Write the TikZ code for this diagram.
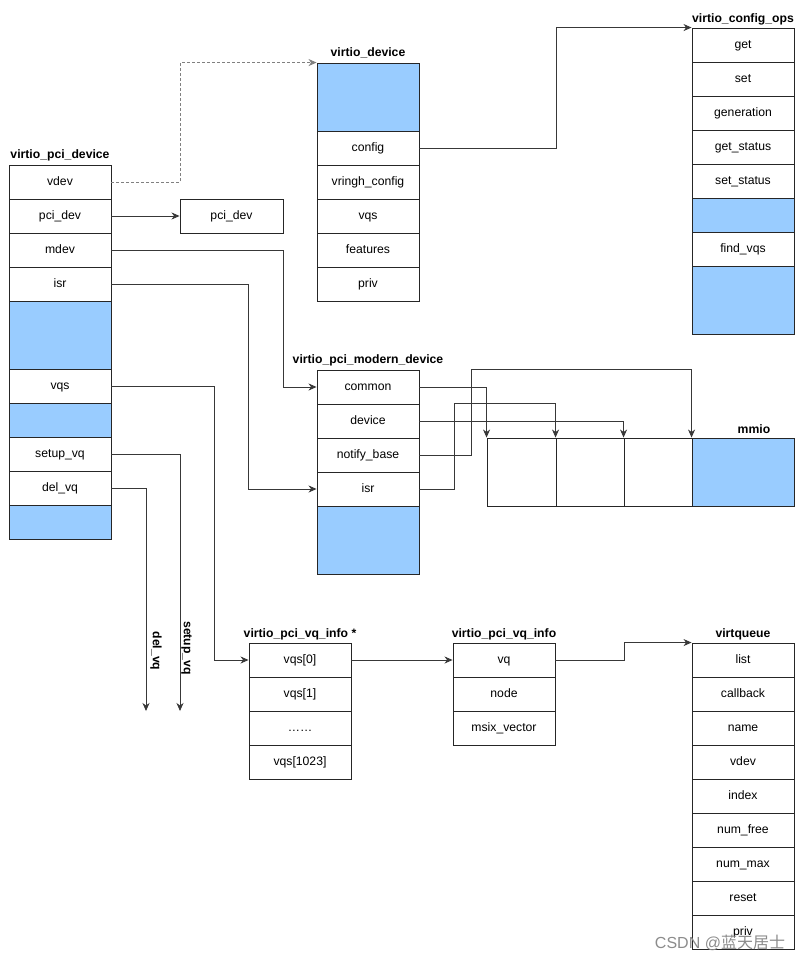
\documentclass[tikz,border=0pt]{standalone}
\usepackage{fontspec}
\setmainfont{Liberation Sans}
\newfontfamily\cjk{Noto Sans CJK SC}
\usetikzlibrary{arrows.meta,calc}
\definecolor{blueF}{HTML}{99CCFF}
\newcommand\lblfont{\fontsize{12.2}{14}\selectfont}
\newcommand\ttlfont{\fontsize{12.2}{14}\selectfont\bfseries}
\tikzset{
  cell/.style={draw=black!85, line width=0.9pt, fill=white, minimum width=102pt, minimum height=34pt, inner sep=0pt, font=\lblfont, text height=8.8pt, text depth=2.6pt},
  bcell/.style={cell, fill=blueF},
  ttl/.style={font=\ttlfont, inner sep=0pt, text height=8.8pt, text depth=2.6pt},
  conn/.style={draw=black!78, line width=0.9pt, -{Stealth[length=8pt,width=7pt,inset=2.5pt]}},
  dconn/.style={conn, draw=black!50, dash pattern=on 3pt off 2pt},
}
\begin{document}
\begin{tikzpicture}[x=1pt,y=-1pt]
\fill[white] (0,0) rectangle (805,961);
\useasboundingbox (0,0) rectangle (805,961);

% virtio_pci_device
\node[ttl] (pdt) at (60,155) {virtio\_pci\_device};
\node[cell] (pd-vdev) at (60,182) {vdev};
\node[cell] (pd-pcidev) at (60,216) {pci\_dev};
\node[cell] (pd-mdev) at (60,250) {mdev};
\node[cell] (pd-isr) at (60,284) {isr};
\node[bcell, minimum height=68pt] (pd-b1) at (60,335) {};
\node[cell] (pd-vqs) at (60,386) {vqs};
\node[bcell] (pd-b2) at (60,420) {};
\node[cell] (pd-setup) at (60,454) {setup\_vq};
\node[cell] (pd-del) at (60,488) {del\_vq};
\node[bcell] (pd-b3) at (60,522) {};

% pci_dev
\node[cell, minimum width=103pt] (pcidev) at (231.5,216) {pci\_dev};

% virtio_device
\node[ttl] (vdt) at (368,53) {virtio\_device};
\node[bcell, minimum height=68pt] (vd-blue) at (368,97) {};
\node[cell] (vd-config) at (368,148) {config};
\node[cell] (vd-vringh) at (368,182) {vringh\_config};
\node[cell] (vd-vqs) at (368,216) {vqs};
\node[cell] (vd-feat) at (368,250) {features};
\node[cell] (vd-priv) at (368,284) {priv};

% virtio_config_ops
\node[ttl] (cot) at (743,19) {virtio\_config\_ops};
\node[cell] (co-get) at (743,45) {get};
\node[cell] (co-set) at (743,79) {set};
\node[cell] (co-gen) at (743,113) {generation};
\node[cell] (co-gs) at (743,147) {get\_status};
\node[cell] (co-ss) at (743,181) {set\_status};
\node[bcell] (co-b1) at (743,215) {};
\node[cell] (co-find) at (743,249) {find\_vqs};
\node[bcell, minimum height=68pt] (co-b2) at (743,300) {};

% virtio_pci_modern_device
\node[ttl] (mdt) at (368,360) {virtio\_pci\_modern\_device};
\node[cell] (md-common) at (368,387) {common};
\node[cell] (md-device) at (368,421) {device};
\node[cell] (md-notify) at (368,455) {notify\_base};
\node[cell] (md-isr) at (368,489) {isr};
\node[bcell, minimum height=68pt] (md-blue) at (368,540) {};

% mmio
\node[ttl] (mmt) at (754,430) {mmio};
\node[cell, minimum width=69pt, minimum height=68pt] (mm1) at (521.5,472) {};
\node[cell, minimum width=68pt, minimum height=68pt] (mm2) at (590,472) {};
\node[cell, minimum width=68pt, minimum height=68pt] (mm3) at (658,472) {};
\node[bcell, minimum height=68pt] (mm4) at (743,472) {};

% virtio_pci_vq_info *
\node[ttl] (vit) at (300,634) {virtio\_pci\_vq\_info *};
\node[cell] (vi-0) at (300,660) {vqs[0]};
\node[cell] (vi-1) at (300,694) {vqs[1]};
\node[cell] (vi-dots) at (300,728) {……};
\node[cell] (vi-last) at (300,762) {vqs[1023]};

% virtio_pci_vq_info
\node[ttl] (vqt) at (504,634) {virtio\_pci\_vq\_info};
\node[cell] (vq-vq) at (504,660) {vq};
\node[cell] (vq-node) at (504,694) {node};
\node[cell] (vq-msix) at (504,728) {msix\_vector};

% virtqueue
\node[ttl] (vqqt) at (743,634) {virtqueue};
\node[cell] (vqq-list) at (743,660) {list};
\node[cell] (vqq-cb) at (743,694) {callback};
\node[cell] (vqq-name) at (743,728) {name};
\node[cell] (vqq-vdev) at (743,762) {vdev};
\node[cell] (vqq-index) at (743,796) {index};
\node[cell] (vqq-free) at (743,830) {num\_free};
\node[cell] (vqq-max) at (743,864) {num\_max};
\node[cell] (vqq-reset) at (743,898) {reset};
\node[cell] (vqq-priv) at (743,932) {priv};

% free ends
\coordinate (setupend) at (180,711);
\coordinate (delend) at (146,711);

% connectors
\draw[dconn] (pd-vdev.east) -- ++(69,0) |- (vd-blue.north west);
\draw[conn] (pd-pcidev.east) -- (pcidev.west);
\draw[conn] (pd-mdev.east) -- ++(172,0) |- (md-common.west);
\draw[conn] (pd-isr.east) -- ++(137,0) |- (md-isr.west);
\draw[conn] (pd-vqs.east) -- ++(103,0) |- (vi-0.west);
\draw[conn] (pd-setup.east) -| (setupend);
\draw[conn] (pd-del.east) -| (delend);
\draw[conn] (vd-config.east) -- ++(137,0) |- (co-get.north west);
\draw[conn] (md-common.east) -| (mm1.north west);
\draw[conn] (md-device.east) -| (mm3.north west);
\draw[conn] (md-notify.east) -- ++(52,0) |- ($(mm4.north west)+(0,-68)$) -- (mm4.north west);
\draw[conn] (md-isr.east) -- ++(35,0) |- ($(mm2.north west)+(0,-34)$) -- (mm2.north west);
\draw[conn] (vi-0.east) -- (vq-vq.west);
\draw[conn] (vq-vq.east) -- ++(69,0) |- (vqq-list.north west);

% rotated labels
\node[ttl, rotate=-90] (lsetup) at (187,648) {setup\_vq};
\node[ttl, rotate=-90] (ldel) at (156,651) {del\_vq};

% watermark
\node[text=black!45, inner sep=0pt, font=\fontsize{16}{17}\selectfont] (wm) at (720,943) {CSDN @{\cjk 蓝天居士}};
\end{tikzpicture}
\end{document}
